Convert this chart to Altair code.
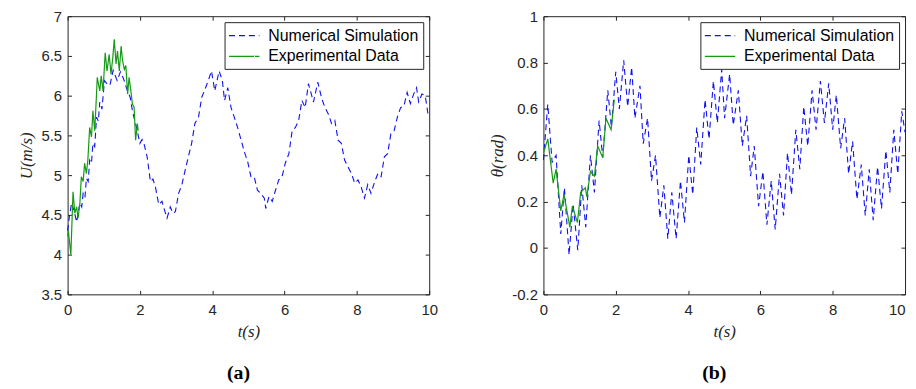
import altair as alt
import pandas as pd

# ---------------- data ----------------
series = ["Numerical Simulation", "Experimental Data"]
x_ticks = [0, 2, 4, 6, 8, 10]
u_ticks = [3.5, 4, 4.5, 5, 5.5, 6, 6.5, 7]
th_ticks = [-0.2, 0, 0.2, 0.4, 0.6, 0.8, 1]

t_u_num = [0.00, 0.04, 0.11, 0.18, 0.25, 0.34, 0.39, 0.43, 0.48, 0.52, 0.57, 0.61, 0.66, 0.70, 0.75,
           0.80, 0.85, 0.89, 0.95, 1.02, 1.09, 1.17, 1.26, 1.37, 1.46, 1.55, 1.64, 1.73, 1.80, 1.89,
           2.00, 2.06, 2.11, 2.20, 2.29, 2.36, 2.43, 2.52, 2.61, 2.68, 2.75, 2.84, 2.91, 2.98, 3.07,
           3.16, 3.25, 3.34, 3.43, 3.52, 3.62, 3.71, 3.80, 3.89, 3.98, 4.07, 4.19, 4.28, 4.34, 4.43,
           4.52, 4.61, 4.70, 4.80, 4.89, 4.98, 5.07, 5.16, 5.25, 5.34, 5.44, 5.48, 5.57, 5.66, 5.75,
           5.84, 5.93, 6.02, 6.12, 6.21, 6.30, 6.39, 6.48, 6.57, 6.66, 6.80, 6.92, 7.03, 7.12, 7.21,
           7.30, 7.39, 7.48, 7.57, 7.66, 7.76, 7.85, 7.94, 8.03, 8.12, 8.21, 8.30, 8.39, 8.48, 8.58,
           8.67, 8.76, 8.85, 8.94, 9.03, 9.12, 9.21, 9.30, 9.39, 9.48, 9.57, 9.65, 9.71, 9.80, 9.89,
           9.98]
u_num = [4.30, 4.45, 4.65, 4.55, 4.41, 4.65, 4.60, 4.77, 4.72, 4.96, 4.92, 5.19, 5.15, 5.40, 5.36,
         5.73, 5.68, 5.92, 5.83, 6.19, 6.15, 6.13, 6.32, 6.19, 6.30, 6.21, 6.08, 5.98, 5.79, 5.63,
         5.40, 5.45, 5.40, 5.23, 4.92, 4.95, 4.85, 4.63, 4.67, 4.56, 4.46, 4.60, 4.52, 4.54, 4.77,
         4.88, 5.06, 5.23, 5.40, 5.65, 5.73, 5.98, 6.08, 6.19, 6.31, 6.06, 6.31, 6.19, 5.94, 6.10,
         5.85, 5.73, 5.60, 5.44, 5.29, 5.17, 4.98, 4.98, 4.81, 4.77, 4.71, 4.58, 4.73, 4.67, 4.81,
         4.94, 4.98, 5.15, 5.27, 5.56, 5.60, 5.69, 5.94, 5.85, 6.15, 5.92, 6.17, 5.96, 5.85, 5.77,
         5.65, 5.69, 5.44, 5.40, 5.19, 5.10, 5.02, 4.90, 4.94, 4.85, 4.71, 4.88, 4.77, 4.90, 5.02,
         4.98, 5.23, 5.27, 5.52, 5.56, 5.73, 5.85, 5.87, 6.04, 5.90, 6.02, 6.10, 5.92, 6.02, 6.00,
         5.73]

t_u_exp = [0.00, 0.02, 0.09, 0.15, 0.20, 0.25, 0.29, 0.34, 0.38, 0.43, 0.47, 0.52, 0.56, 0.61, 0.66,
           0.70, 0.75, 0.80, 0.82, 0.89, 0.93, 0.98, 1.04, 1.09, 1.15, 1.20, 1.25, 1.29, 1.34, 1.38,
           1.43, 1.48, 1.52, 1.57, 1.61, 1.66, 1.70, 1.75, 1.79, 1.84, 1.88, 1.93, 1.95]
u_exp = [4.23, 4.30, 4.00, 4.79, 4.52, 4.60, 4.46, 4.65, 4.98, 4.92, 5.15, 5.02, 5.19, 5.60, 5.48,
         5.81, 5.56, 6.02, 6.23, 6.06, 6.25, 6.06, 6.54, 6.31, 6.52, 6.27, 6.48, 6.71, 6.40, 6.56,
         6.31, 6.62, 6.44, 6.33, 6.38, 6.02, 6.23, 6.06, 5.90, 5.85, 5.44, 5.65, 5.56]

t_th_num = [0.00, 0.12, 0.24, 0.35, 0.48, 0.58, 0.71, 0.82, 0.95, 1.06, 1.17, 1.30, 1.41, 1.54, 1.64,
            1.78, 1.88, 2.00, 2.10, 2.22, 2.33, 2.44, 2.53, 2.67, 2.76, 2.88, 2.99, 3.10, 3.22, 3.33,
            3.44, 3.55, 3.67, 3.79, 3.90, 4.02, 4.13, 4.24, 4.35, 4.47, 4.58, 4.70, 4.81, 4.93, 5.01,
            5.15, 5.25, 5.39, 5.50, 5.62, 5.73, 5.83, 5.95, 6.07, 6.18, 6.30, 6.41, 6.53, 6.64, 6.75,
            6.86, 6.98, 7.09, 7.20, 7.31, 7.43, 7.54, 7.66, 7.77, 7.89, 8.00, 8.10, 8.22, 8.33, 8.44,
            8.55, 8.67, 8.79, 8.90, 9.01, 9.12, 9.24, 9.35, 9.47, 9.58, 9.69, 9.80, 9.91, 10.0]
th_num = [0.38, 0.62, 0.37, 0.40, 0.06, 0.26, -0.03, 0.19, -0.01, 0.27, 0.09, 0.40, 0.24, 0.55, 0.39,
          0.68, 0.52, 0.76, 0.60, 0.81, 0.61, 0.78, 0.56, 0.70, 0.45, 0.56, 0.29, 0.40, 0.13, 0.27,
          0.04, 0.24, 0.04, 0.29, 0.11, 0.40, 0.23, 0.52, 0.36, 0.64, 0.47, 0.72, 0.54, 0.77, 0.56,
          0.75, 0.53, 0.68, 0.44, 0.57, 0.31, 0.44, 0.18, 0.33, 0.10, 0.29, 0.08, 0.32, 0.14, 0.41,
          0.23, 0.51, 0.34, 0.61, 0.44, 0.68, 0.51, 0.72, 0.54, 0.71, 0.51, 0.66, 0.43, 0.56, 0.32,
          0.46, 0.21, 0.36, 0.14, 0.34, 0.12, 0.35, 0.17, 0.42, 0.24, 0.51, 0.32, 0.59, 0.50]

t_th_exp = [0.00, 0.12, 0.27, 0.35, 0.48, 0.57, 0.73, 0.80, 0.94, 1.03, 1.16, 1.20, 1.30, 1.41, 1.50,
            1.64, 1.73, 1.87, 1.96]
th_exp = [0.41, 0.47, 0.28, 0.34, 0.16, 0.23, 0.09, 0.18, 0.11, 0.24, 0.26, 0.22, 0.33, 0.31, 0.44,
          0.39, 0.56, 0.51, 0.64]

# ---------------- styling ----------------
W, H = 364, 280
COLORS = ["#1010f0", "#149a14"]
DASHES = [[6, 4], [1, 0]]
INK = "#262626"
label_expr = "replace(format(datum.value, '~g'), '\u2212', '-')"


def frame(t, v, name):
    return pd.DataFrame({"t": t, "v": v, "series": name})


def panel(num_df, exp_df, ydom, yticks, ytitle, caption, last_align="center"):
    xs = alt.Scale(domain=[0, 10], nice=False)
    ys = alt.Scale(domain=ydom, nice=False, zero=False)
    leg = alt.Legend(title=None, orient="top-right", offset=6, strokeColor=INK,
                     fillColor="white", padding=4, labelFont="Liberation Sans",
                     labelFontSize=16, labelColor="black", symbolType="M0,0H3.6",
                     symbolSize=289, symbolOffset=-9, symbolStrokeWidth=1.2,
                     labelOffset=30, rowPadding=3, cornerRadius=0)
    color = alt.Color("series:N", scale=alt.Scale(domain=series, range=COLORS), legend=leg)
    dash = alt.StrokeDash("series:N", scale=alt.Scale(domain=series, range=DASHES), legend=leg)

    x_align = {"condition": {"test": "datum.value === 10", "value": last_align},
               "value": "center"}
    main = alt.Chart(num_df).mark_line(strokeWidth=1.1).encode(
        x=alt.X("t:Q", scale=xs, axis=alt.Axis(values=x_ticks, ticks=False, labelPadding=8,
                                              labelFlush=False, labelAlign=x_align,
                                              title="t(s)", titlePadding=6)),
        y=alt.Y("v:Q", scale=ys, axis=alt.Axis(values=yticks, ticks=False, labelPadding=6,
                                              labelExpr=label_expr, title=ytitle,
                                              titlePadding=5)),
        color=color, strokeDash=dash)
    exp = alt.Chart(exp_df).mark_line(strokeWidth=1.2).encode(
        x=alt.X("t:Q", scale=xs, axis=alt.Axis(orient="top", offset=-H, values=x_ticks,
                                              labels=False, tickSize=4, title=None)),
        y=alt.Y("v:Q", scale=ys, axis=alt.Axis(orient="right", offset=-W, values=yticks,
                                              labels=False, tickSize=4, title=None)),
        color=color, strokeDash=dash)
    ghost = alt.Chart(num_df).mark_line(opacity=0).encode(
        x=alt.X("t:Q", scale=xs, axis=alt.Axis(orient="bottom", offset=-H, values=x_ticks,
                                              labels=False, tickSize=4, title=None)),
        y=alt.Y("v:Q", scale=ys, axis=alt.Axis(orient="left", offset=-W, values=yticks,
                                              labels=False, tickSize=4, title=None)))
    return alt.layer(main, exp, ghost).resolve_axis(x="independent", y="independent").properties(
        width=W, height=H,
        title=alt.TitleParams(caption, orient="bottom", font="Liberation Serif",
                              fontWeight="bold", fontSize=20, offset=24, dx=-10,
                              color="black"))


left = panel(frame(t_u_num, u_num, series[0]), frame(t_u_exp, u_exp, series[1]),
             [3.5, 7], u_ticks, "U(m/s)", "(a)")
right = panel(frame(t_th_num, th_num, series[0]), frame(t_th_exp, th_exp, series[1]),
              [-0.2, 1], th_ticks, "θ(rad)", "(b)", last_align="right")

chart = alt.hconcat(left, right, spacing=50).resolve_scale(
    x="independent", y="independent", color="independent", strokeDash="independent"
).properties(
    padding={"left": 9, "top": -1, "right": 0, "bottom": 0},
    background="white",
).configure_view(stroke=INK, strokeWidth=1).configure_axis(
    grid=False, domain=False, labelFont="Liberation Sans", labelFontSize=15,
    labelColor=INK, tickColor=INK, titleFont="Liberation Serif", titleFontStyle="italic",
    titleFontWeight="normal", titleFontSize=17, titleColor=INK
)

chart.save("out.html", embed_options={"renderer": "svg", "actions": False})
